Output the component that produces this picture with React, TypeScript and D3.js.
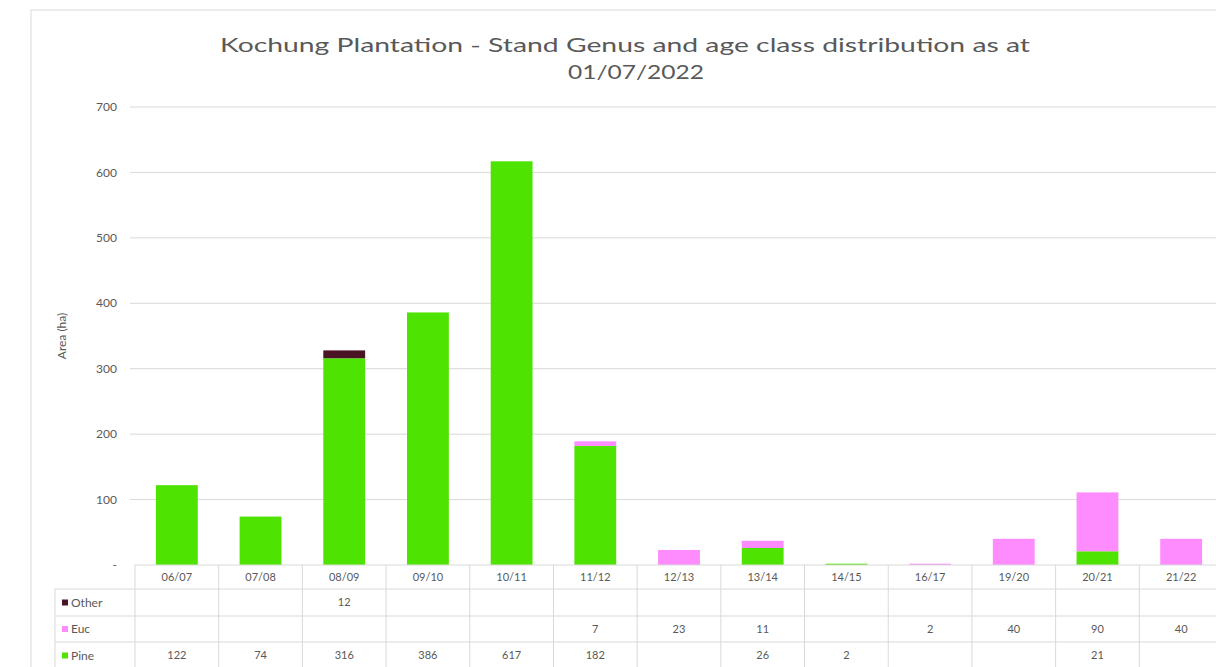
import React from 'react';
import * as d3 from 'd3';

const categories = ['06/07', '07/08', '08/09', '09/10', '10/11', '11/12', '12/13', '13/14', '14/15', '16/17', '19/20', '20/21', '21/22'];
const pine = [122, 74, 316, 386, 617, 182, null, 26, 2, null, null, 21, null];
const euc = [null, null, null, null, null, 7, 23, 11, null, 2, 40, 90, 40];
const other = [null, null, 12, null, null, null, null, null, null, null, null, null, null];
const yTicks = [0, 100, 200, 300, 400, 500, 600, 700];

const seriesNames = ['Pine', 'Euc', 'Other'];
const colors: Record<string, string> = { Pine: '#4ee300', Euc: '#ff8cff', Other: '#4b1424' };
const font = 'Lato, "Open Sans", sans-serif';
const grey = '#595959';

export default function App() {
	const width = 1216, height = 667;
	const margin = { left: 135, right: -7, top: 107, bottom: 102 };

	const x = d3.scaleBand().domain(categories).range([margin.left, width - margin.right]).paddingInner(0.5).paddingOuter(0.25);
	const y = d3.scaleLinear().domain([0, 700]).range([height - margin.bottom, margin.top]);
	const step = x.step();
	const bandStart = (c: string) => (x(c) as number) - step * 0.25;

	const rows = categories.map((c, i) => ({ cat: c, Pine: pine[i] || 0, Euc: euc[i] || 0, Other: other[i] || 0 }));
	const stacked = d3.stack<any>().keys(seriesNames)(rows);

	// table rows (top to bottom)
	const tableRows = [
		{ name: 'Other', vals: other },
		{ name: 'Euc', vals: euc },
		{ name: 'Pine', vals: pine },
	];
	const tableTop = y(0);
	const rowY = [tableTop, 589, 616, 642, 669];
	const tableLeft = 55;
	const tableRight = width - margin.right;

	return (
		<svg width={width} height={height} style={{ position: 'absolute', left: 0, top: 0, background: '#fff' }}>
			<rect x={31} y={10} width={width} height={height} fill="#fff" stroke="#d9d9d9" />
			<text x={625} y={52} textAnchor="middle" fontFamily={font} fontSize={20} fill={grey} textLength={810} lengthAdjust="spacingAndGlyphs">
				Kochung Plantation - Stand Genus and age class distribution as at
			</text>
			<text x={636} y={79} textAnchor="middle" fontFamily={font} fontSize={20} fill={grey} textLength={136} lengthAdjust="spacingAndGlyphs">
				01/07/2022
			</text>

			{/* gridlines */}
			{yTicks.filter(t => t > 0).map(t => (
				<line key={t} x1={margin.left - 5} x2={width} y1={y(t)} y2={y(t)} stroke="#d9d9d9" />
			))}
			{yTicks.map(t => (
				<text key={t} x={117} y={y(t)} dy="0.35em" textAnchor="end" fontFamily={font} fontSize={12} fill={grey}>
					{t === 0 ? '-' : t}
				</text>
			))}
			<text transform={`translate(66,${(y(0) + y(700)) / 2 + 0}) rotate(-90)`} textAnchor="middle" fontFamily={font} fontSize={12} fill={grey}>
				Area (ha)
			</text>

			{/* bars */}
			{stacked.map(s => (
				<g key={s.key} fill={colors[s.key]}>
					{s.map((d, i) => d[1] - d[0] > 0 ? (
						<rect key={i} x={x(categories[i])} width={x.bandwidth()} y={y(d[1])} height={y(d[0]) - y(d[1])} />
					) : null)}
				</g>
			))}

			{/* data table */}
			<line x1={margin.left} x2={tableRight} y1={rowY[0]} y2={rowY[0]} stroke="#d9d9d9" />
			{rowY.slice(1).map((ry, i) => (
				<line key={i} x1={tableLeft} x2={tableRight} y1={ry} y2={ry} stroke="#d9d9d9" />
			))}
			<line x1={tableLeft} x2={tableLeft} y1={rowY[1]} y2={height} stroke="#d9d9d9" />
			<line x1={margin.left} x2={margin.left} y1={rowY[0]} y2={height} stroke="#d9d9d9" />
			{categories.map(c => (
				<line key={c} x1={bandStart(c) + step} x2={bandStart(c) + step} y1={rowY[0]} y2={height} stroke="#d9d9d9" />
			))}
			{categories.map(c => (
				<text key={c} x={(x(c) as number) + x.bandwidth() / 2} y={(rowY[0] + rowY[1]) / 2} dy="0.35em" textAnchor="middle" fontFamily={font} fontSize={11} fill={grey}>
					{c}
				</text>
			))}
			{tableRows.map((r, ri) => {
				const cy = (rowY[ri + 1] + rowY[ri + 2]) / 2;
				return (
					<g key={r.name}>
						<rect x={62} y={cy - 3} width={6} height={6} fill={colors[r.name]} />
						<text x={71} y={cy} dy="0.35em" fontFamily={font} fontSize={12} fill={grey}>{r.name}</text>
						{r.vals.map((v, i) => v == null ? null : (
							<text key={i} x={(x(categories[i]) as number) + x.bandwidth() / 2} y={cy} dy="0.35em" textAnchor="middle" fontFamily={font} fontSize={11} fill={grey}>
								{v}
							</text>
						))}
					</g>
				);
			})}
		</svg>
	);
}
